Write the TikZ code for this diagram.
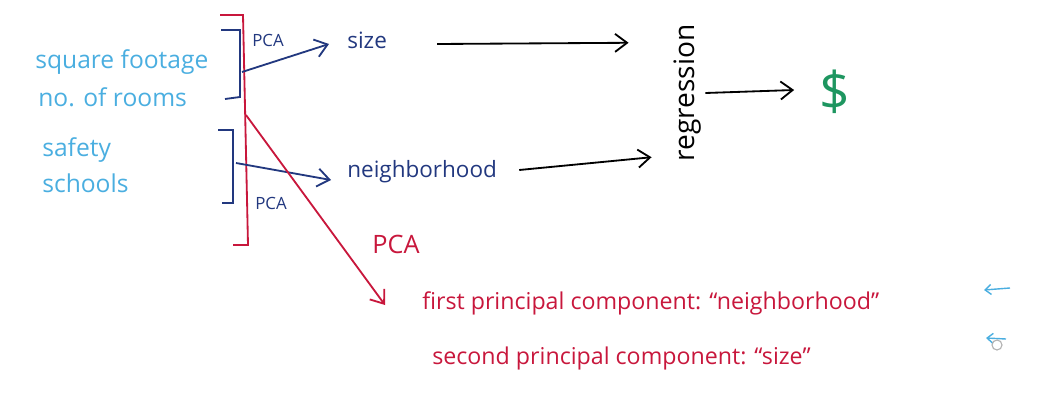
\documentclass[tikz,border=0pt]{standalone}
\usepackage{fontspec}
\setmainfont{Open Sans}
\usetikzlibrary{arrows.meta, calc, positioning}
\definecolor{featblue}{HTML}{4AAEE0}
\definecolor{pcanavy}{HTML}{22387F}
\definecolor{pcared}{HTML}{C8173C}
\definecolor{dollargreen}{HTML}{1E9660}
\tikzset{
  feat/.style={text=featblue, anchor=west, inner sep=1pt, font=\fontsize{17.5}{19}\selectfont},
  comp/.style={text=pcanavy, anchor=west, inner sep=1pt, font=\fontsize{16}{18}\selectfont},
  pcatag/.style={text=pcanavy, inner sep=1pt, font=\fontsize{12}{13}\selectfont},
  redline/.style={text=pcared, anchor=west, inner sep=1pt, font=\fontsize{16.5}{18}\selectfont},
}

\begin{document}
\begin{tikzpicture}[x=0.025cm, y=-0.025cm, line width=1.3pt, >={Straight Barb[length=3mm,width=4.5mm]}]
            \useasboundingbox (0,0) rectangle (1040,408);
            % input features
            \foreach\n/\x/\y/\t in {sq/33/62/square footage, rm/36/97/no. of rooms, sf/40/150/safety, sc/40/183/schools}{
              \node[feat] (\n) at (\x,\y) {\t};
            }
            % brackets
            \draw[pcanavy] (221,30) -- (240,30) -- (240,97) -- (225,99);
            \draw[pcanavy] (218,130) -- (233,130) -- (233,203) -- (222,203);
            \draw[pcared] (220,15) -- (243,15) -- (248,245) -- (233,245);
            \coordinate (b1) at (242,72);
            \coordinate (b2) at (236,163);
            \coordinate (rb) at (246,115);
            % new features
            \node[comp] (size) at (345,40) {size};
            \node[comp] (nbh) at (345,172) {neighborhood};
            \node[pcatag] (p1) at (268,40) {PCA};
            \node[pcatag] (p2) at (271,203) {PCA};
            \draw[->, pcanavy] (b1) -- ($(size.west)+(-16,4)$);
            \draw[->, pcanavy] (b2) -- ($(nbh.west)+(-14,8)$);
            % regression
            \node[rotate=90, inner sep=2pt, font=\fontsize{20}{22}\selectfont] (reg) at (688,93) {regression};
            \node[text=dollargreen, font=\fontsize{38}{40}\selectfont] (usd) at (835,92) {\$};
            \draw[->] ($(size.east)+(48,4)$) -- ($(reg.north east)+(-42,22)$);
            \draw[->] ($(nbh.east)+(20,-2)$) -- ($(reg.north west)+(-19,-8)$);
            \draw[->] ($(reg.south)+(0,0)$) -- ($(usd.west)+(-20,-2)$);
            % principal components
            \node[text=pcared, inner sep=1pt, font=\fontsize{18}{19}\selectfont] (p3) at (396,244) {PCA};
            \node[redline] (l1) at (420,303) {first principal component: “neighborhood”};
            \node[redline] (l2) at (430,358) {second principal component: “size”};
            \coordinate (re) at (385,305);
            \draw[->, pcared] (rb) -- (re);
            % side marks
            \coordinate (m1) at (1010,288);
            \coordinate (m2) at (1006,339);
            \draw[->, featblue, line width=1pt, >={Straight Barb[length=1.5mm,width=2.5mm]}] (m1) -- ++(-26,2);
            \draw[->, featblue, line width=1pt, >={Straight Barb[length=1.5mm,width=2.5mm]}] (m2) -- ++(-20,-1);
            \draw[gray!60, line width=0.8pt] (997,345) circle [radius=5];
          \end{tikzpicture}
\end{document}
